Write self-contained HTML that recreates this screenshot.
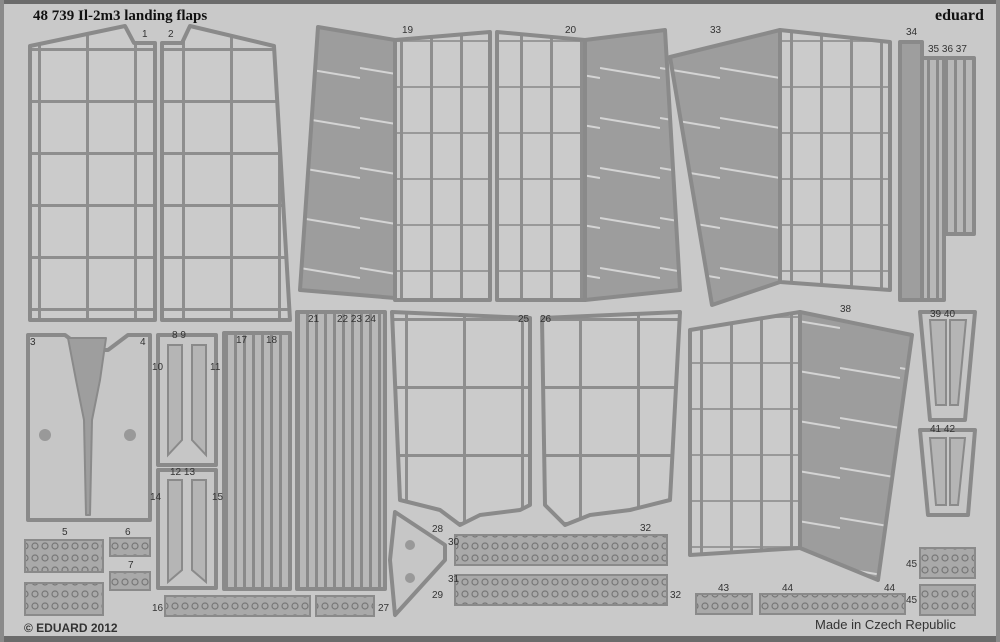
<!DOCTYPE html>
<html><head><meta charset="utf-8"><style>
html,body{margin:0;padding:0;background:#c9c9c9;}
svg{display:block}
text{font-family:"Liberation Sans",sans-serif;fill:#333;}
</style></head><body>
<svg width="1000" height="642" viewBox="0 0 1000 642" xmlns="http://www.w3.org/2000/svg">
<defs>
<pattern id="g1" width="48" height="52" patternUnits="userSpaceOnUse" x="38" y="48">
<rect width="48" height="52" fill="#cbcbcb"/>
<rect x="0" y="0" width="48" height="3" fill="#8e8e8e"/>
<rect x="0" y="0" width="3" height="52" fill="#8e8e8e"/>
</pattern>
<pattern id="g2" width="30" height="46" patternUnits="userSpaceOnUse" x="400" y="40">
<rect width="30" height="46" fill="#cbcbcb"/>
<rect width="30" height="2" fill="#999"/>
<rect width="3" height="46" fill="#8e8e8e"/>
</pattern>
<pattern id="g3" width="58" height="68" patternUnits="userSpaceOnUse" x="405" y="318">
<rect width="58" height="68" fill="#cbcbcb"/>
<rect width="58" height="3" fill="#8e8e8e"/>
<rect width="3" height="68" fill="#8e8e8e"/>
</pattern>
<pattern id="dk" width="60" height="50" patternUnits="userSpaceOnUse" x="300" y="30">
<rect width="60" height="50" fill="#9d9d9d"/>
<path d="M0 38 L60 48" stroke="#d4d4d4" stroke-width="2"/>
</pattern>
<pattern id="st" width="9" height="10" patternUnits="userSpaceOnUse">
<rect width="9" height="10" fill="#b8b8b8"/>
<rect width="3" height="10" fill="#8a8a8a"/>
</pattern>
<pattern id="sm" width="10" height="12" patternUnits="userSpaceOnUse">
<rect width="10" height="12" fill="#a9a9a9"/>
<circle cx="5" cy="6" r="3" fill="none" stroke="#777" stroke-width="1.2"/>
</pattern>
</defs>
<rect x="0" y="0" width="1000" height="4" fill="#6b6b6b"/>
<rect x="0" y="636" width="1000" height="6" fill="#6b6b6b"/>
<rect x="0" y="0" width="4" height="642" fill="#8a8a8a"/>
<rect x="996" y="0" width="4" height="642" fill="#8a8a8a"/>

<text x="33" y="20" font-weight="bold" font-size="15" style="font-family:'Liberation Serif',serif;fill:#111">48 739   Il-2m3 landing flaps</text>
<text x="935" y="20" font-weight="bold" font-size="16" style="font-family:'Liberation Serif',serif;fill:#111">eduard</text>
<text x="24" y="632" font-size="12" font-weight="bold">© EDUARD 2012</text>
<text x="815" y="629" font-size="13">Made in Czech Republic</text>

<g stroke="#8a8a8a" stroke-width="4" stroke-linejoin="round">
<polygon points="30,46 125,26 134,43 155,43 155,320 30,320" fill="url(#g1)"/>
<polygon points="162,43 182,43 190,26 274,46 290,320 162,320" fill="url(#g1)"/>
<polygon points="318,27 395,40 395,298 300,290" fill="url(#dk)"/>
<polygon points="395,40 490,32 490,300 395,300" fill="url(#g2)"/>
<polygon points="497,32 585,40 585,300 497,300" fill="url(#g2)"/>
<polygon points="585,40 665,30 680,290 585,300" fill="url(#dk)"/>
<polygon points="670,57 780,30 780,282 712,305" fill="url(#dk)"/>
<polygon points="780,30 890,42 890,290 780,282" fill="url(#g2)"/>
<rect x="900" y="42" width="22" height="258" fill="#9e9e9e"/>
<rect x="922" y="58" width="22" height="242" fill="url(#st)"/>
<rect x="946" y="58" width="28" height="176" fill="url(#st)"/>
<polygon points="28,335 65,335 85,350 108,350 128,335 150,335 150,520 28,520" fill="#c6c6c6"/>
<polygon points="68,338 106,338 100,380 92,420 90,515 86,515 84,420 76,380" fill="#9e9e9e" stroke-width="2"/>
<polygon points="158,335 216,335 216,465 158,465" fill="#c6c6c6"/>
<polygon points="158,470 216,470 216,588 158,588" fill="#c6c6c6"/>
<rect x="224" y="333" width="66" height="256" fill="url(#st)"/>
<rect x="297" y="312" width="88" height="277" fill="url(#st)"/>
<polygon points="392,312 530,318 530,505 520,510 480,515 460,525 440,510 400,500" fill="url(#g3)"/>
<polygon points="542,318 680,312 670,500 630,510 590,515 565,525 545,505" fill="url(#g3)"/>
<polygon points="395,512 445,545 445,560 395,615 390,560" fill="#c6c6c6"/>
<polygon points="690,330 800,312 800,548 690,555" fill="url(#g2)"/>
<polygon points="800,312 912,335 878,580 800,548" fill="url(#dk)"/>
<polygon points="920,312 975,312 965,420 930,420" fill="#c6c6c6"/>
<polygon points="920,430 975,430 968,515 928,515" fill="#c6c6c6"/>
</g>
<g fill="#b5b5b5" stroke="#8a8a8a" stroke-width="2">
<polygon points="168,345 182,345 182,440 168,455"/>
<polygon points="192,345 206,345 206,455 192,440"/>
<polygon points="168,480 182,480 182,570 168,582"/>
<polygon points="192,480 206,480 206,582 192,570"/>
<polygon points="930,320 946,320 946,405 936,405"/>
<polygon points="950,320 966,320 958,405 950,405"/>
<polygon points="930,438 946,438 946,505 936,505"/>
<polygon points="950,438 965,438 958,505 950,505"/>
</g>
<g stroke="#8a8a8a" stroke-width="2">
<rect x="25" y="540" width="78" height="32" fill="url(#sm)"/>
<rect x="25" y="583" width="78" height="32" fill="url(#sm)"/>
<rect x="110" y="538" width="40" height="18" fill="url(#sm)"/>
<rect x="110" y="572" width="40" height="18" fill="url(#sm)"/>
<rect x="165" y="596" width="145" height="20" fill="url(#sm)"/>
<rect x="316" y="596" width="58" height="20" fill="url(#sm)"/>
<rect x="455" y="535" width="212" height="30" fill="url(#sm)"/>
<rect x="455" y="575" width="212" height="30" fill="url(#sm)"/>
<rect x="696" y="594" width="56" height="20" fill="url(#sm)"/>
<rect x="760" y="594" width="145" height="20" fill="url(#sm)"/>
<rect x="920" y="548" width="55" height="30" fill="url(#sm)"/>
<rect x="920" y="585" width="55" height="30" fill="url(#sm)"/>
</g>
<circle cx="45" cy="435" r="6" fill="#999"/><circle cx="130" cy="435" r="6" fill="#999"/>
<circle cx="410" cy="545" r="5" fill="#999"/><circle cx="410" cy="578" r="5" fill="#999"/>
<g font-size="10">
<text x="142" y="37">1</text><text x="168" y="37">2</text><text x="402" y="33">19</text>
<text x="565" y="33">20</text><text x="710" y="33">33</text><text x="906" y="35">34</text>
<text x="928" y="52">35 36 37</text><text x="30" y="345">3</text><text x="140" y="345">4</text>
<text x="172" y="338">8 9</text><text x="152" y="370">10</text><text x="210" y="370">11</text>
<text x="170" y="475">12 13</text><text x="150" y="500">14</text><text x="212" y="500">15</text>
<text x="236" y="343">17</text><text x="266" y="343">18</text><text x="308" y="322">21</text>
<text x="337" y="322">22 23 24</text><text x="518" y="322">25</text><text x="540" y="322">26</text>
<text x="840" y="312">38</text><text x="930" y="317">39 40</text><text x="930" y="432">41 42</text>
<text x="62" y="535">5</text><text x="125" y="535">6</text><text x="128" y="568">7</text>
<text x="152" y="611">16</text><text x="378" y="611">27</text><text x="432" y="532">28</text>
<text x="448" y="545">30</text><text x="432" y="598">29</text><text x="448" y="582">31</text>
<text x="640" y="531">32</text><text x="670" y="598">32</text><text x="718" y="591">43</text>
<text x="782" y="591">44</text><text x="884" y="591">44</text><text x="906" y="567">45</text><text x="906" y="603">45</text>
</g>
</svg>
</body></html>
